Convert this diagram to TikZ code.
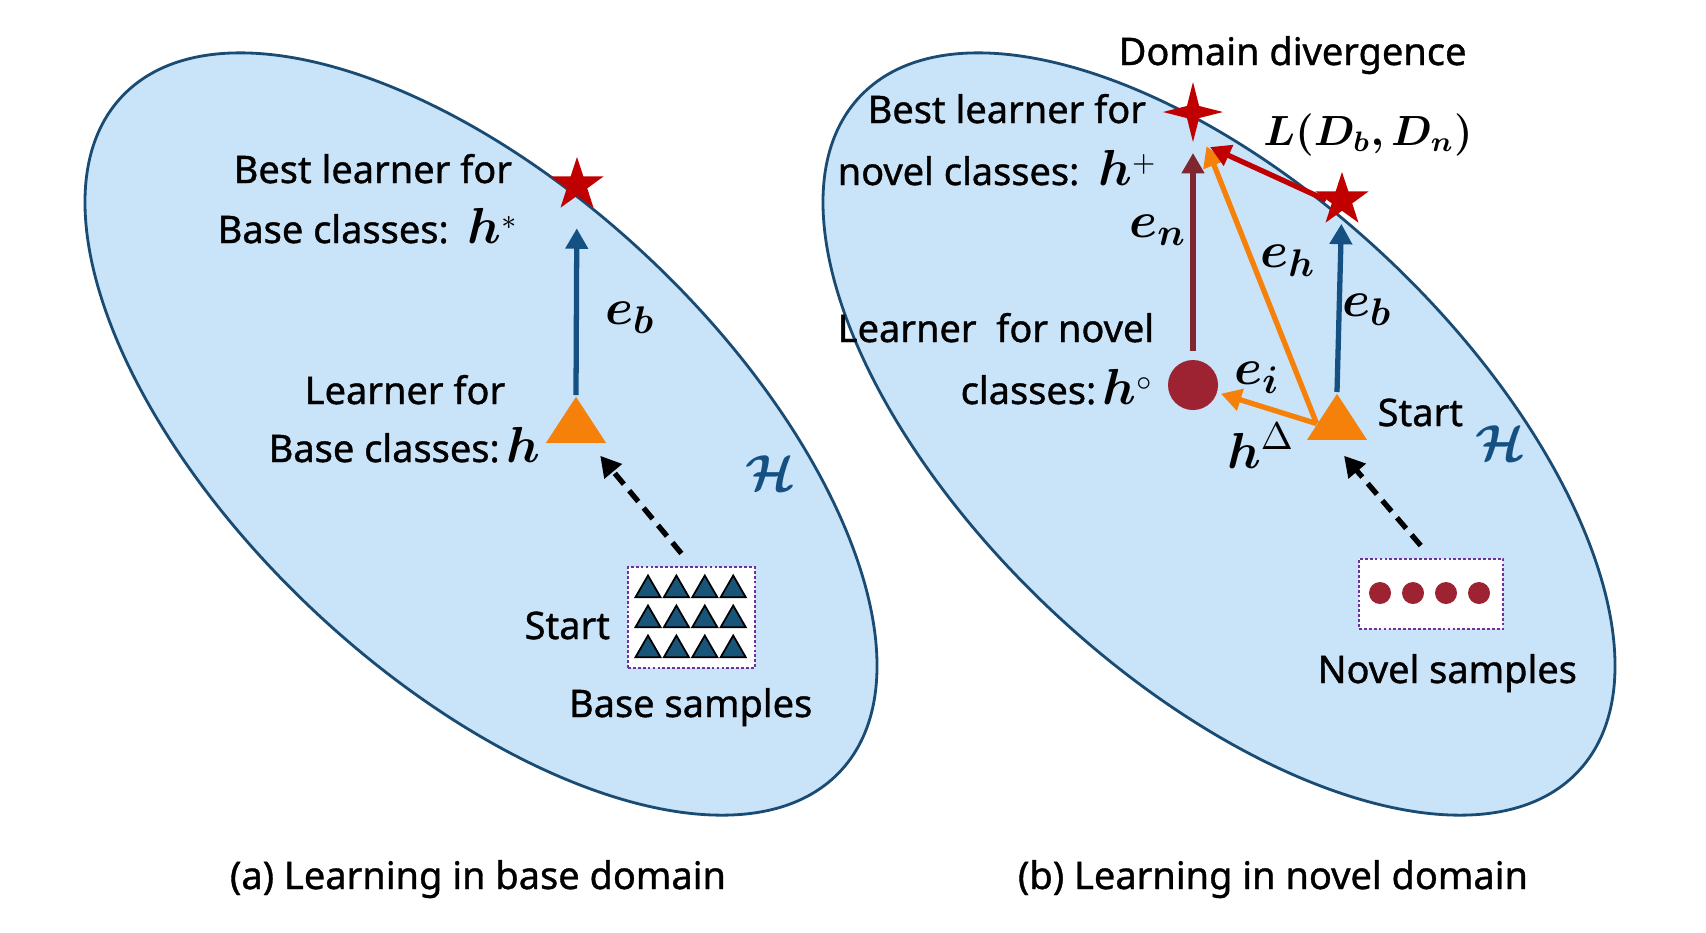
\documentclass[tikz,border=0pt]{standalone}
\usepackage{fontspec}
\setmainfont{Noto Sans}[FakeBold=1.0]
\usepackage{amsmath,bm}
\usetikzlibrary{shapes.geometric, arrows.meta, positioning}
\definecolor{spacefill}{RGB}{201,227,248}
\definecolor{spaceline}{RGB}{25,75,115}
\definecolor{pathblue}{RGB}{20,80,130}
\definecolor{bestred}{RGB}{192,0,0}
\definecolor{steporange}{RGB}{245,128,10}
\definecolor{novelmaroon}{RGB}{128,38,48}
\definecolor{dotred}{RGB}{158,35,50}
\definecolor{boxviolet}{RGB}{112,48,160}
\definecolor{smpblue}{RGB}{25,85,120}
\newcommand{\lmath}[1]{{\fontsize{15.5}{18}\selectfont$\bm{#1}$}}
\tikzstyle{hypo} = [draw=spaceline, line width=0.8pt, fill=spacefill]
\tikzstyle{txt} = [font=\fontsize{10.8}{13}\selectfont, inner sep=0pt]
\tikzstyle{mth} = [font=\fontsize{15}{18}\selectfont, inner sep=0pt]
\tikzstyle{beststar} = [star, star points=5, star point ratio=2.6, fill=bestred, minimum size=0.56cm, inner sep=0pt]
\tikzstyle{novelstar} = [star, star points=4, star point ratio=3.5, fill=bestred, minimum size=0.6cm, inner sep=0pt]
\tikzstyle{learner} = [isosceles triangle, shape border rotate=90, isosceles triangle stretches, minimum width=0.6cm, minimum height=0.46cm, fill=steporange, inner sep=0pt]
\tikzstyle{novellearner} = [circle, fill=dotred, minimum size=0.5cm, inner sep=0pt]
\tikzstyle{smpbox} = [rectangle, draw=boxviolet, line width=0.8pt, dash pattern=on 0.8pt off 0.6pt, fill=white]
\tikzstyle{basesmp} = [regular polygon, regular polygon sides=3, fill=smpblue, draw=black, line width=0.5pt, minimum size=0.29cm, inner sep=0pt]
\tikzstyle{novelsmp} = [circle, fill=dotred, minimum size=0.22cm, inner sep=0pt]
\tikzstyle{flow} = [line width=1.5pt, -{Triangle[length=5.8pt,width=6.2pt]}]
\tikzstyle{startflow} = [flow, black, dash pattern=on 4pt off 2.4pt]

\begin{document}
\begin{tikzpicture}[x=0.01cm, y=-0.01cm]
	\useasboundingbox (0,0) rectangle (1706,932);
	\draw [hypo, rotate around={-43.2:(481,434)}] (481,434) ellipse [x radius=492.8, y radius=243.2];
	\draw [hypo, rotate around={-43.2:(1219,434)}] (1219,434) ellipse [x radius=492.8, y radius=243.2];

	\node (bstarb) [beststar] at (577,185) {};
	\node (hb) [learner, anchor=apex] at (576,395) {};
	\node (smpb) [smpbox, minimum width=1.27cm, minimum height=1.01cm] at (691.5,617.5) {};
	\foreach \i in {0,...,3}
		\foreach \j in {0,1,2}
			\node (bs\i\j) [basesmp] at (648+28.4*\i, 590+30*\j) {};

	\node (bl1) [txt, anchor=base west] at (233,183) {Best learner for};
	\node (bl2) [txt, anchor=base west] at (217,243) {Base classes:\enspace\lmath{h}$^{*}$};
	\node (ll1) [txt, anchor=base west] at (304,404) {Learner for};
	\node (ll2) [txt, anchor=base west] at (268,462) {Base classes:\,\lmath{h}};
	\node (sb) [txt, anchor=base west] at (524,639) {Start};
	\node (bsl) [txt, anchor=base east] at (813,717) {Base samples};
	\node (eb) [mth] at (630,318) {$\bm{e_b}$};
	\node (hsb) [mth, text=pathblue, font=\fontsize{13.3}{16}\selectfont] at (770,473) {$\bm{\mathcal{H}}$};

	\draw [flow, pathblue, shorten >=9pt] (hb.apex) -- (bstarb);
	\draw [startflow, shorten <=4.5pt, shorten >=4.5pt] (smpb.north) -- (hb);

	\node (nstar) [novelstar] at (1193,112) {};
	\node (bstarn) [beststar] at (1342,200) {};
	\node (hn) [learner, anchor=apex] at (1337,392) {};
	\node (hcirc) [novellearner] at (1193,385) {};
	\node (smpn) [smpbox, minimum width=1.44cm, minimum height=0.70cm] at (1431,594) {};
	\foreach \i in {0,...,3}
		\node (ns\i) [novelsmp] at (1380+33*\i, 593) {};
	\coordinate (divtip) at (1210,147);

	\node (dd) [txt, anchor=base west] at (1118,65) {Domain divergence};
	\node (bn1) [txt, anchor=base west] at (867,123) {Best learner for};
	\node (bn2) [txt, anchor=base west] at (837,185) {novel classes:\enspace\lmath{h}$^{+}$};
	\node (ln1) [txt, anchor=base west] at (837,342) {Learner\ \ for novel};
	\node (ln2) [txt, anchor=base west] at (960,404) {classes:\,\lmath{h}$^{\circ}$};
	\node (sn) [txt, anchor=base west] at (1377,426) {Start};
	\node (nsl) [txt, anchor=base west] at (1317,683) {Novel samples};
	\node (ldiv) [mth, font=\fontsize{11.5}{14}\selectfont] at (1368,135) {$\bm{L(D_b,D_n)}$};
	\node (en) [mth] at (1158,230) {$\bm{e_n}$};
	\node (eh) [mth] at (1288,261) {$\bm{e_h}$};
	\node (ebn) [mth] at (1367,310) {$\bm{e_b}$};
	\node (ei) [mth] at (1257,378) {$\bm{e_i}$};
	\node (hd) [mth] at (1261,446) {\lmath{h}$^{\Delta}$};
	\node (hsn) [mth, text=pathblue, font=\fontsize{13.3}{16}\selectfont] at (1500,443) {$\bm{\mathcal{H}}$};

	\draw [flow, pathblue, shorten >=3.4pt] (hn.apex) -- (bstarn);
	\draw [flow, novelmaroon, shorten <=2.3pt, shorten >=2.3pt] (hcirc) -- (nstar);
	\draw [flow, steporange, shorten >=6.5pt] (hn.west) -- (nstar);
	\draw [flow, bestred] (bstarn.west) -- (divtip);
	\draw [flow, steporange, shorten >=1pt] (hn.west) -- (hcirc);
	\draw [startflow, shorten <=4.5pt, shorten >=12pt] (smpn.north) -- (hn.west);

	\node (capa) [txt, anchor=base] at (478,889) {(a) Learning in base domain};
	\node (capb) [txt, anchor=base] at (1273,889) {(b) Learning in novel domain};
\end{tikzpicture}
\end{document}
